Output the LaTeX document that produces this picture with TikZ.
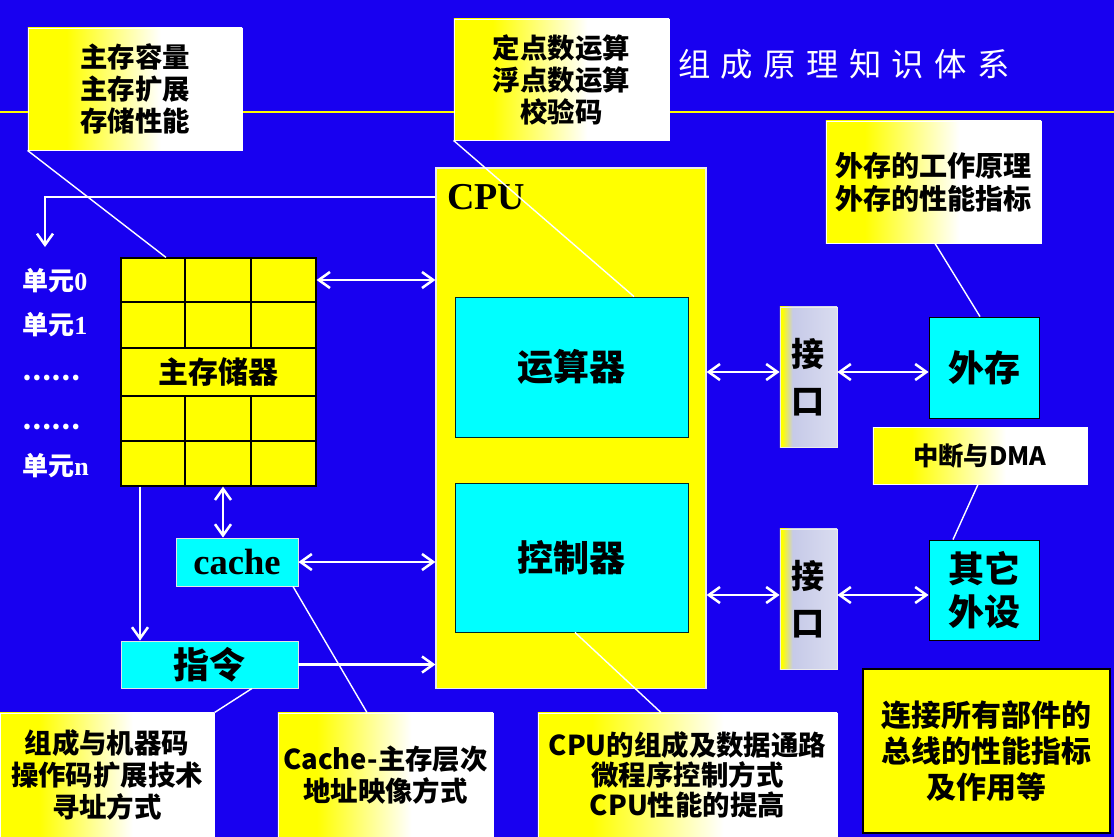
\documentclass[tikz,border=0pt]{standalone}
\usepackage{fontspec}
\setmainfont{Liberation Serif}
\newfontfamily\cjk{Noto Sans CJK SC}
\newfontfamily\titlefont[LetterSpace=32]{Noto Sans CJK SC}
\usetikzlibrary{arrows.meta}

\definecolor{slideblue}{RGB}{24,0,240}
\definecolor{boxyellow}{RGB}{255,255,0}
\definecolor{boxcyan}{RGB}{0,255,255}
\definecolor{portgray}{RGB}{198,202,232}
\definecolor{portlight}{RGB}{218,220,240}
\pgfdeclarehorizontalshading{notefade}{100bp}{color(0bp)=(boxyellow); color(34bp)=(boxyellow); color(56bp)=(white); color(100bp)=(white)}
\pgfdeclarehorizontalshading{portfade}{100bp}{color(0bp)=(boxyellow); color(27bp)=(boxyellow); color(36bp)=(portgray); color(75bp)=(portlight); color(100bp)=(portlight)}

\tikzset{
  note/.style={draw=white, line width=0.6pt, shade, shading=notefade, inner sep=0pt, align=center, font=\cjk\bfseries\fontsize{19.5pt}{22.8pt}\selectfont},
  unit/.style={draw=black, line width=0.6pt, fill=boxcyan, inner sep=0pt, align=center, font=\cjk\bfseries\fontsize{25.6pt}{30.6pt}\selectfont},
  port/.style={draw=white!85!gray, line width=0.6pt, shade, shading=portfade, inner sep=0pt, align=center, font=\cjk\bfseries\fontsize{23.5pt}{33.4pt}\selectfont},
  celllabel/.style={anchor=west, inner sep=0pt, text=white, font=\bfseries\fontsize{18.5pt}{20pt}\selectfont},
  wire/.style={white, line width=1.6pt},
  arr/.style={wire, -{Straight Barb[length=2.8mm,width=4mm,line width=1.8pt]}},
  dbl/.style={wire, {Straight Barb[length=2.8mm,width=4mm,line width=1.8pt]}-{Straight Barb[length=2.8mm,width=4mm,line width=1.8pt]}},
  lead/.style={white, line width=1pt},
}

\begin{document}
\begin{tikzpicture}[x=0.025cm,y=-0.025cm]
	\fill[slideblue] (0,0) rectangle (1114,837); % slide background
	\useasboundingbox (0,0) rectangle (1114,837);
	\draw[boxyellow, line width=2pt] (0,112) -- (1114,112); % title rule
	
	\node[anchor=west, inner sep=0pt, text=white, font=\titlefont\fontsize{23pt}{23pt}\selectfont] (title) at (678,64) {组成原理知识体系}; % title
	
	% notes on top
	\node[note, minimum width=5.35cm, minimum height=3.05cm] (memnote) at (135,89) {主存容量\\主存扩展\\存储性能};
	\node[note, minimum width=5.375cm, minimum height=3.025cm] (alunote) at (561.5,79.5) {定点数运算\\浮点数运算\\校验码};
	\node[note, minimum width=5.375cm, minimum height=3.05cm, font=\cjk\bfseries\fontsize{20pt}{23.5pt}\selectfont] (disknote) at (933.5,182) {外存的工作原理\\外存的性能指标};
	
	% cpu
	\node[fill=boxyellow, draw=white!85!gray, line width=0.8pt, minimum width=6.75cm, minimum height=13cm] (cpu) at (571,428) {};
	\node[anchor=west, inner sep=0pt, font=\bfseries\fontsize{27pt}{27pt}\selectfont] (cpulabel) at (447,197) {CPU};
	\node[unit, draw=black!70!teal, minimum width=5.825cm, minimum height=3.5cm] (alu) at (571.5,367) {运算器}; % ALU
	\node[unit, draw=black!70!teal, minimum width=5.825cm, minimum height=3.725cm] (cu) at (571.5,557.5) {控制器}; % control unit
	
	% main memory grid
	\node[fill=boxyellow, draw=black, line width=0.8pt, inner sep=0pt, minimum width=4.875cm, minimum height=5.7cm, font=\cjk\bfseries\fontsize{21.3pt}{22pt}\selectfont] (mem) at (218.5,372) {主存储器};
	\foreach \y in {302,348,396,441} { \draw[line width=0.8pt] (121,\y) -- (316,\y); }
	\foreach \x in {185,251} { \draw[line width=0.8pt] (\x,258) -- (\x,348); \draw[line width=0.8pt] (\x,396) -- (\x,486); }
	
	\node[celllabel] (cell0) at (22,281) {{\cjk 单元}0};
	\node[celllabel] (cell1) at (22,325) {{\cjk 单元}1};
	\node[celllabel] (dots1) at (22,378) {{\cjk ……}};
	\node[celllabel] (dots2) at (22,427) {{\cjk ……}};
	\node[celllabel] (celln) at (22,466) {{\cjk 单元}n};
	
	\node[unit, draw=white!80!gray, minimum width=3.05cm, minimum height=1.2cm, font=\bfseries\fontsize{26pt}{26pt}\selectfont] (cache) at (237,562) {cache};
	\node[unit, draw=white!80!gray, minimum width=4.425cm, minimum height=1.175cm] (instr) at (209.5,664.5) {指令};
	
	% right side
	\node[port, minimum width=1.425cm, minimum height=3.5cm] (port1) at (808.5,377) {接\\口};
	\node[port, minimum width=1.425cm, minimum height=3.5cm] (port2) at (808.5,599) {接\\口};
	\node[unit, minimum width=2.75cm, minimum height=2.525cm] (disk) at (984,367.5) {外存};
	\node[note, minimum width=5.35cm, minimum height=1.425cm, font=\cjk\bfseries\fontsize{18pt}{20pt}\selectfont] (dma) at (980,455.5) {中断与DMA};
	\node[unit, minimum width=2.75cm, minimum height=2.5cm] (io) at (984,590) {其它\\外设};
	
	% notes at the bottom
	\node[note, minimum width=5.35cm, minimum height=3.1cm] (instrnote) at (107,775) {组成与机器码\\操作码扩展技术\\寻址方式};
	\node[note, minimum width=5.375cm, minimum height=3.1cm] (cachenote) at (385.5,775) {Cache-主存层次\\地址映像方式};
	\node[note, minimum width=7.475cm, minimum height=3.1cm, font=\cjk\bfseries\fontsize{19.5pt}{21.3pt}\selectfont] (cunote) at (687.5,775) {CPU的组成及数据通路\\微程序控制方式\\CPU性能的提高};
	\node[fill=boxyellow, draw=black, line width=0.8pt, inner sep=0pt, align=center, minimum width=6.175cm, minimum height=4.1cm, font=\cjk\bfseries\fontsize{21.3pt}{25.6pt}\selectfont] (bus) at (986.5,751) {连接所有部件的\\总线的性能指标\\及作用等};
	
	% arrows
	\draw[arr] (cpu.west |- 0,197) -| (45,247); % back to cell 0
	\draw[dbl] (mem.east |- 0,280) -- (cpu.west |- 0,280); % memory - cpu
	\draw[dbl] (mem.south -| 223,0) -- (cache.north -| 223,0); % memory - cache
	\draw[dbl] (cache.east) -- (cache.east -| cpu.west); % cache - cpu
	\draw[arr] (mem.south -| 140,0) -- (instr.north -| 140,0); % memory - instruction
	\draw[arr] (instr.east) -- (instr.east -| cpu.west); % instruction - cpu
	\draw[dbl] (cpu.east |- 0,372) -- (port1.west |- 0,372); % cpu - port
	\draw[dbl] (port1.east |- 0,372) -- (disk.west |- 0,372); % port - disk
	\draw[dbl] (cpu.east |- 0,595) -- (port2.west |- 0,595); % cpu - port
	\draw[dbl] (port2.east |- 0,595) -- (io.west |- 0,595); % port - io
	
	% leader lines
	\draw[lead] (memnote.south west) -- (mem.north -| 166,0);
	\draw[lead] (alunote.south west) -- (alu.north -| 634,0);
	\draw[lead] (disknote.south -| 935,0) -- (disk.north -| 980,0);
	\draw[lead] (dma.south -| 978,0) -- (io.north -| 953,0);
	\draw[lead] (cu.south -| 575,0) -- (cunote.north -| 661,0);
	\draw[lead] (cache.south -| 293,0) -- (cachenote.north -| 367,0);
	\draw[lead] (instr.south -| 252,0) -- (instrnote.north east);
\end{tikzpicture}
\end{document}
